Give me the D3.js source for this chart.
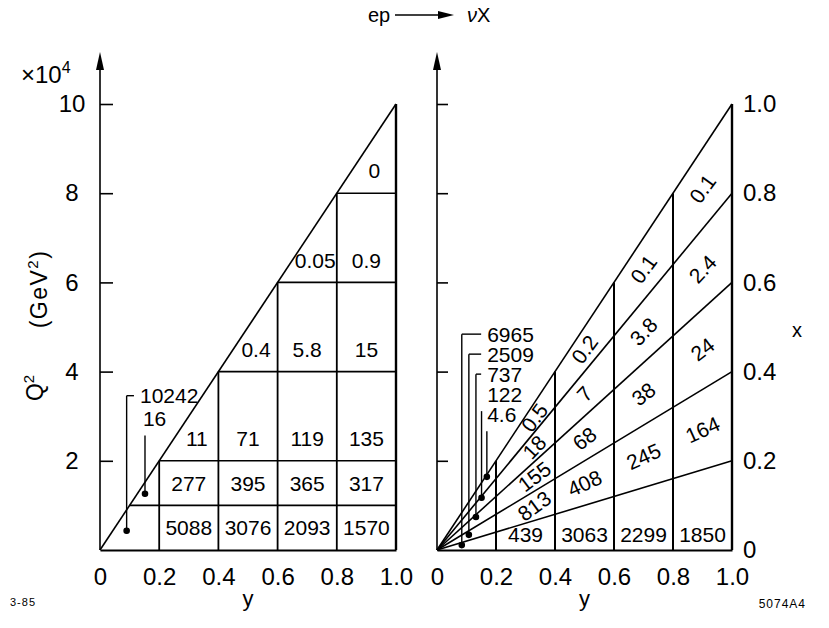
<!DOCTYPE html>
<html>
<head>
<meta charset="utf-8">
<script src="https://cdn.jsdelivr.net/npm/d3@7"></script>
<style>
  body { margin: 0; background: #fff; }
  svg text { font-family: "Liberation Sans", Arial, sans-serif; fill: #000; }
</style>
</head>
<body>
<div id="chart"></div>
<script>
// ep -> nu X : event counts in (y, Q2) bins and in (y, x) bins

let y_edges = [0, 0.2, 0.4, 0.6, 0.8, 1.0];
let y_tick_labels = ['0', '0.2', '0.4', '0.6', '0.8', '1.0'];
let q2_edges = [0, 1, 2, 4, 6, 8, 10];      // x 10^4 GeV^2
let q2_ticks = [2, 4, 6, 8, 10];
let x_edges = [0, 0.2, 0.4, 0.6, 0.8, 1.0];
let x_tick_labels = ['0', '0.2', '0.4', '0.6', '0.8', '1.0'];

// left panel: rows = Q2 bins (bottom to top), columns = y bins
let left_counts = [
    ['10242', '5088', '3076', '2093', '1570'],
    ['16', '277', '395', '365', '317'],
    [null, '11', '71', '119', '135'],
    [null, null, '0.4', '5.8', '15'],
    [null, null, null, '0.05', '0.9'],
    [null, null, null, null, '0'],
];

// right panel: rows = x bins (bottom to top), columns = y bins
let right_counts = [
    ['6965', '439', '3063', '2299', '1850'],
    ['2509', '813', '408', '245', '164'],
    ['737', '155', '68', '38', '24'],
    ['122', '18', '7', '3.8', '2.4'],
    ['4.6', '0.5', '0.2', '0.1', '0.1'],
];

// points (y, Q2) the small-bin labels of the first column point to
let left_leader_pts = [[0.09, 0.43], [0.152, 1.26]];
let right_leader_pts = [[0.084, 0.11], [0.108, 0.34], [0.132, 0.74], [0.151, 1.17], [0.169, 1.64]];

let width = 829;
let height = 628;

let svg = d3.select('#chart')
    .append('svg')
    .attr('width', width)
    .attr('height', height);

// scales
let q2_scale = d3.scaleLinear().domain([0, 10]).range([550, 104]);
let yl_scale = d3.scaleLinear().domain([0, 1]).range([100, 396]);
let yr_scale = d3.scaleLinear().domain([0, 1]).range([437, 732]);
let x_scale = d3.scaleLinear().domain([0, 1]).range([550, 104]); // x read at y = 1

let grid = svg.append('g')
    .attr('stroke', '#000')
    .attr('stroke-width', 1.6)
    .attr('fill', 'none');

function seg(g, x1, y1, x2, y2, w) {
    g.append('line')
        .attr('x1', x1).attr('y1', y1)
        .attr('x2', x2).attr('y2', y2)
        .attr('stroke-width', w || null);
}

// ---------- left panel ----------
seg(grid, yl_scale(0), q2_scale(0), yl_scale(1), q2_scale(10));
y_edges.slice(1).forEach(c => {
    seg(grid, yl_scale(c), q2_scale(0), yl_scale(c), q2_scale(10 * c), c === 1 ? 2.4 : 1.8);
});
q2_edges.slice(1, -1).forEach(q => {
    seg(grid, yl_scale(q / 10), q2_scale(q), yl_scale(1), q2_scale(q));
});

// ---------- right panel ----------
x_edges.slice(1).forEach(x => {
    seg(grid, yr_scale(0), q2_scale(0), yr_scale(1), q2_scale(10 * x));
});
y_edges.slice(1).forEach(c => {
    seg(grid, yr_scale(c), q2_scale(0), yr_scale(c), q2_scale(10 * c), c === 1 ? 2.4 : 2);
});

// vertical axes with arrows
[100, 437].forEach(ax => {
    seg(grid, ax, q2_scale(0), ax, 64);
    svg.append('path')
        .attr('d', `M${ax},52 L${ax - 4},70 L${ax + 4},70 Z`)
        .attr('fill', '#000');
});

// left Q2 axis (ticks inward, labels outside)
let q2_axis = d3.axisLeft(q2_scale)
    .tickValues(q2_ticks)
    .tickSize(-13)
    .tickPadding(18)
    .tickFormat(d3.format('d'));
let gq = svg.append('g')
    .attr('transform', 'translate(100,0)')
    .call(q2_axis);
gq.select('.domain').remove();
gq.selectAll('line').attr('stroke-width', 1.6);
gq.selectAll('text')
    .attr('x', -28)
    .attr('text-anchor', 'middle')
    .style('font-size', '24px');

// right panel inner ticks
let gq2 = svg.append('g')
    .attr('transform', 'translate(437,0)')
    .call(d3.axisRight(q2_scale).tickValues(q2_ticks).tickSize(11).tickFormat(''));
gq2.select('.domain').remove();
gq2.selectAll('line').attr('stroke-width', 1.6);

// right x axis labels
let gx = svg.append('g')
    .attr('transform', 'translate(732,0)')
    .call(d3.axisRight(x_scale).tickValues(x_edges).tickSize(0).tickPadding(11)
        .tickFormat((d, i) => x_tick_labels[i]));
gx.select('.domain').remove();
gx.selectAll('text').style('font-size', '24px');

// bottom y axes
[yl_scale, yr_scale].forEach(sc => {
    let g = svg.append('g')
        .attr('transform', 'translate(0,550)')
        .call(d3.axisBottom(sc).tickValues(y_edges).tickSize(0).tickSizeOuter(0).tickPadding(18)
            .tickFormat((d, i) => y_tick_labels[i]));
    g.select('.domain').attr('stroke-width', 1.8);
    g.selectAll('text').style('font-size', '24px');
});

// ---------- cell labels ----------
let cells = svg.append('g').style('font-size', '21px').attr('text-anchor', 'middle');

left_counts.forEach((row, r) => {
    let lo = q2_edges[r], hi = q2_edges[r + 1];
    row.forEach((v, c) => {
        if (v === null || c === 0) return;
        let cut = hi > 10 * y_edges[c];
        cells.append('text')
            .attr('x', yl_scale((y_edges[c] + y_edges[c + 1]) / 2) + (cut ? 8 : 0))
            .attr('y', q2_scale(lo + 0.5))
            .attr('dy', '0.36em')
            .text(v);
    });
});

right_counts.forEach((row, b) => {
    let x_mid = (x_edges[b] + x_edges[b + 1]) / 2;
    row.forEach((v, c) => {
        if (c === 0) return;
        let y_mid = (y_edges[c] + y_edges[c + 1]) / 2;
        if (b === 0) {
            cells.append('text')
                .attr('x', yr_scale(y_mid))
                .attr('y', q2_scale(0.34))
                .attr('dy', '0.36em')
                .text(v);
            return;
        }
        // narrow cells next to the first column: push label up along the band
        let y_pos = c === 1 ? 0.33 : y_mid;
        let px = yr_scale(y_pos);
        let py = q2_scale(x_mid * y_pos * 10);
        let ang = Math.atan2(q2_scale(0) - q2_scale(10 * x_mid), yr_scale(1) - yr_scale(0)) * 180 / Math.PI;
        if (c === 1) ang = Math.max(ang, 36);
        cells.append('text')
            .attr('transform', `translate(${px},${py}) rotate(${-ang})`)
            .attr('dy', '0.36em')
            .text(v);
    });
});

// ---------- leaders for the first y column ----------
let leaders = svg.append('g');

function leader(label, pt, scale, tx, ty) {
    let lx = scale(pt[0]);
    let ly = q2_scale(pt[1]);
    leaders.append('text')
        .attr('x', tx).attr('y', ty).attr('dy', '0.36em')
        .style('font-size', '21px')
        .text(label);
    let top;
    if (tx - lx > 8) {
        seg(leaders, lx, ty, tx - 6, ty);
        top = ty;
    } else {
        top = ty + 17;
    }
    seg(leaders, lx, top, lx, ly);
    leaders.append('circle')
        .attr('cx', lx).attr('cy', ly).attr('r', 2.6)
        .attr('fill', '#000');
}
leaders.attr('stroke', '#000').attr('stroke-width', 1.4);

leader(left_counts[0][0], left_leader_pts[0], yl_scale, yl_scale(0.135), q2_scale(3.46));
leader(left_counts[1][0], left_leader_pts[1], yl_scale, yl_scale(0.145), q2_scale(2.95));
right_counts.forEach((row, b) => {
    leader(row[0], right_leader_pts[b], yr_scale, yr_scale(0.17), q2_scale(4.84) + b * 20);
});
leaders.selectAll('text').attr('stroke', 'none');

// ---------- titles ----------
let t = svg.append('g');
t.append('text').attr('x', 368).attr('y', 22).style('font-size', '20px').text('ep');
t.append('line').attr('x1', 395).attr('y1', 15).attr('x2', 440).attr('y2', 15)
    .attr('stroke', '#000').attr('stroke-width', 1.3);
t.append('path').attr('d', 'M454,15 L438,11 L438,19 Z').attr('fill', '#000');
t.append('text').attr('x', 467).attr('y', 22).style('font-size', '20px')
    .html('<tspan font-style="italic">ν</tspan>X');

t.append('text').attr('x', 21).attr('y', 83).style('font-size', '24px')
    .html('×10<tspan dy="-10" font-size="16px">4</tspan>');

t.append('text')
    .attr('transform', 'translate(43,388) rotate(-90)')
    .attr('text-anchor', 'middle')
    .style('font-size', '23px')
    .html('Q<tspan dy="-9" font-size="15px">2</tspan>');
t.append('text')
    .attr('transform', 'translate(47,289) rotate(-90)')
    .attr('text-anchor', 'middle')
    .style('font-size', '23px')
    .style('letter-spacing', '1.5px')
    .html('(GeV<tspan dy="-9" font-size="15px">2</tspan><tspan dy="9">)</tspan>');

t.append('text').attr('x', yl_scale(0.5)).attr('y', 606).attr('text-anchor', 'middle')
    .style('font-size', '22px').text('y');
t.append('text').attr('x', yr_scale(0.5)).attr('y', 606).attr('text-anchor', 'middle')
    .style('font-size', '22px').text('y');
t.append('text').attr('x', 797).attr('y', 337).attr('text-anchor', 'middle')
    .style('font-size', '20px').text('x');

t.append('text').attr('x', 10).attr('y', 606).style('font-size', '11px')
    .style('letter-spacing', '1px').text('3-85');
t.append('text').attr('x', 806).attr('y', 608).attr('text-anchor', 'end')
    .style('font-size', '12px').style('letter-spacing', '1px').text('5074A4');
</script>
</body>
</html>
